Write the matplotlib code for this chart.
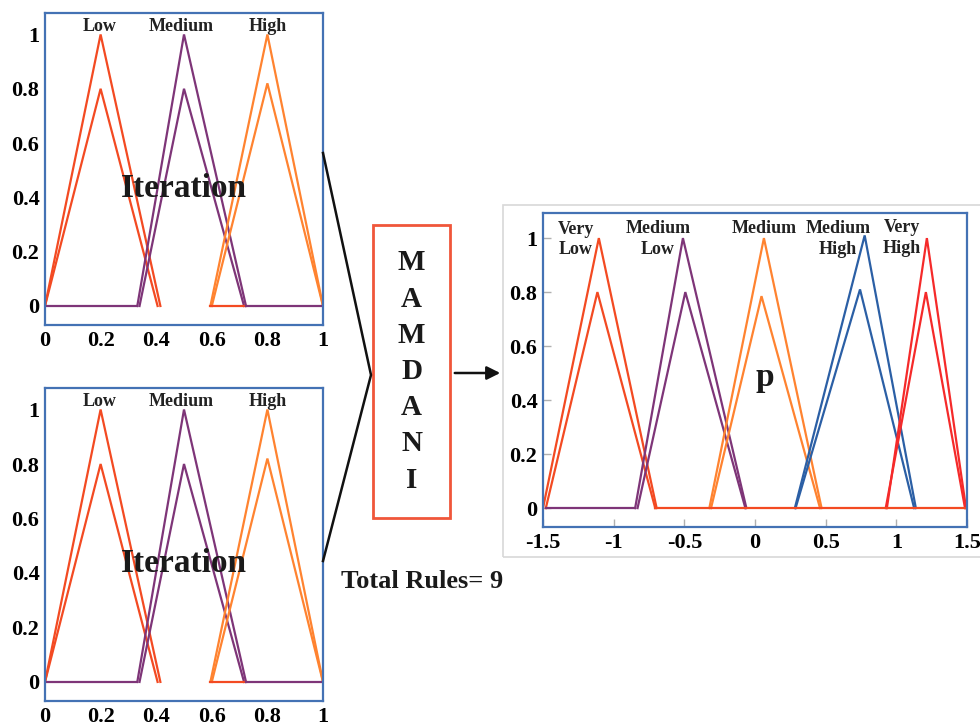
import matplotlib
matplotlib.use("Agg")
import matplotlib.pyplot as plt
from matplotlib.patches import Rectangle, FancyArrowPatch
from matplotlib.lines import Line2D

plt.rcParams['font.family'] = ['Liberation Serif', 'DejaVu Serif']
plt.rcParams['font.weight'] = 'bold'

# ---------- input MF data (Iteration) ----------
in_labels = ["Low", "Medium", "High"]
in_label_x = [0.198, 0.49, 0.80]
in_outer = [(0.0, 0.2, 0.415), (0.332, 0.5, 0.723), (0.595, 0.8, 1.0)]
in_outer_h = [1.0, 1.0, 1.0]
in_inner = [(0.0, 0.2, 0.405), (0.34, 0.5, 0.716), (0.60, 0.8, 1.0)]
in_inner_h = [0.80, 0.80, 0.82]
in_colors = ["#f34a22", "#7e3578", "#ff8330"]
in_xticks = [0, 0.2, 0.4, 0.6, 0.8, 1]
in_xticklabels = ["0", "0.2", "0.4", "0.6", "0.8", "1"]
yticks = [0, 0.2, 0.4, 0.6, 0.8, 1]
yticklabels = ["0", "0.2", "0.4", "0.6", "0.8", "1"]

# ---------- output MF data (p) ----------
out_labels = ["Very\nLow", "Medium\nLow", "Medium", "Medium\nHigh", "Very\nHigh"]
out_label_x = [-1.27, -0.686, 0.064, 0.588, 1.04]
out_label_y = [0.995, 0.997, 1.037, 0.997, 1.0]
out_outer = [(-1.5, -1.105, -0.696), (-0.848, -0.51, -0.061), (-0.323, 0.063, 0.471),
             (0.282, 0.776, 1.138), (0.933, 1.216, 1.493)]
out_outer_h = [1.0, 1.0, 1.0, 1.01, 1.0]
out_inner = [(-1.48, -1.115, -0.706), (-0.831, -0.493, -0.068), (-0.311, 0.046, 0.46),
             (0.287, 0.743, 1.126), (0.925, 1.209, 1.486)]
out_inner_h = [0.80, 0.80, 0.785, 0.81, 0.80]
out_colors = ["#f34a22", "#7e3578", "#ff8330", "#2b5fa5", "#f52a2a"]
out_xticks = [-1.5, -1, -0.5, 0, 0.5, 1, 1.5]
out_xticklabels = ["-1.5", "-1", "-0.5", "0", "0.5", "1", "1.5"]

mamdani_letters = ["M", "A", "M", "D", "A", "N", "I"]

FRAME = "#4472b4"
LW = 1.6

fig = plt.figure(figsize=(9.8, 7.25), dpi=100)
W, H = 980, 725


def fax(l, t, r, b):
    return fig.add_axes([l / W, 1 - b / H, (r - l) / W, (b - t) / H])


def style(ax, ticks_in=False):
    for s in ax.spines.values():
        s.set_color(FRAME)
        s.set_linewidth(1.6)
    ax.tick_params(labelsize=16, pad=4)
    for lab in ax.get_xticklabels() + ax.get_yticklabels():
        lab.set_fontweight('bold')
    if ticks_in:
        ax.tick_params(direction='in', length=6, color="#b0b0b0", width=1)
    else:
        ax.tick_params(length=0)


def tri(ax, v, h, c):
    ax.plot([v[0], v[1], v[2]], [0, h, 0], color=c, lw=LW, solid_joinstyle='miter')


def draw_input(ax):
    for i in range(3):
        tri(ax, in_outer[i], in_outer_h[i], in_colors[i])
        tri(ax, in_inner[i], in_inner_h[i], in_colors[i])
    ax.plot([in_outer[1][2], in_outer[2][0]], [0, 0], color=in_colors[0], lw=LW)
    ax.plot([0, in_outer[1][0]], [0, 0], color=in_colors[1], lw=LW)
    ax.plot([in_outer[1][2], 1], [0, 0], color=in_colors[1], lw=LW)
    for lab, x in zip(in_labels, in_label_x):
        ax.text(x, 1.03, lab, ha='center', va='center', fontsize=13, fontweight='bold', color='#222222')
    ax.text(0.5, 0.434, "Iteration", ha='center', va='center', fontsize=24, fontweight='bold', color='#1a1a1a')
    ax.set_xlim(0, 1)
    ax.set_ylim(-0.07, 1.079)
    ax.set_xticks(in_xticks)
    ax.set_xticklabels(in_xticklabels)
    ax.set_yticks(yticks)
    ax.set_yticklabels(yticklabels)
    style(ax)


ax1 = fax(45, 13, 323, 325)
draw_input(ax1)
ax2 = fax(45, 388, 323, 701)
draw_input(ax2)

# grey outer frame around output plot
fig.patches.append(Rectangle((503 / W, 1 - 557 / H), 500 / W, 352 / H, transform=fig.transFigure,
                             fill=False, edgecolor="#d8d8d8", lw=1.2))

ax3 = fax(543, 213, 967, 527)
for i in range(5):
    tri(ax3, out_outer[i], out_outer_h[i], out_colors[i])
    tri(ax3, out_inner[i], out_inner_h[i], out_colors[i])
ax3.plot([out_inner[0][0], out_outer[1][0]], [0, 0], color=out_colors[1], lw=LW)
ax3.plot([out_inner[0][2], 1.5], [0, 0], color=out_colors[0], lw=LW)
for lab, x, y in zip(out_labels, out_label_x, out_label_y):
    ax3.text(x, y, lab, ha='center', va='center', fontsize=13, fontweight='bold',
             color='#222222', linespacing=1.3)
ax3.text(0.071, 0.485, "p", ha='center', va='center', fontsize=24, fontweight='bold', color='#1a1a1a')
ax3.set_xlim(-1.5, 1.5)
ax3.set_ylim(-0.07, 1.093)
ax3.set_xticks(out_xticks)
ax3.set_xticklabels(out_xticklabels)
ax3.set_yticks(yticks)
ax3.set_yticklabels(yticklabels)
style(ax3, ticks_in=True)

# MAMDANI box
fig.patches.append(Rectangle((373 / W, 1 - 518 / H), 77 / W, 293 / H, transform=fig.transFigure,
                             fill=False, edgecolor="#f0563a", lw=2))
for k, ch in enumerate(mamdani_letters):
    y = 263 + k * 36.2
    fig.text(411.5 / W, 1 - y / H, ch, ha='center', va='center', fontsize=21, fontweight='bold', color='#1a1a1a')

# connecting lines
fig.add_artist(Line2D([323 / W, 371 / W, 323 / W], [1 - 153 / H, 1 - 375 / H, 1 - 561 / H],
                      transform=fig.transFigure, color='#111111', lw=1.8))
fig.add_artist(FancyArrowPatch((452 / W, 1 - 373 / H), (503 / W, 1 - 373 / H), transform=fig.transFigure,
                               arrowstyle='-|>', mutation_scale=20, color='#111111', lw=1.8))

fig.text(422 / W, 1 - 582 / H, "Total Rules= 9", ha='center', va='center', fontsize=19,
         fontweight='bold', color='#1a1a1a')

fig.savefig("out.png", dpi=100)
